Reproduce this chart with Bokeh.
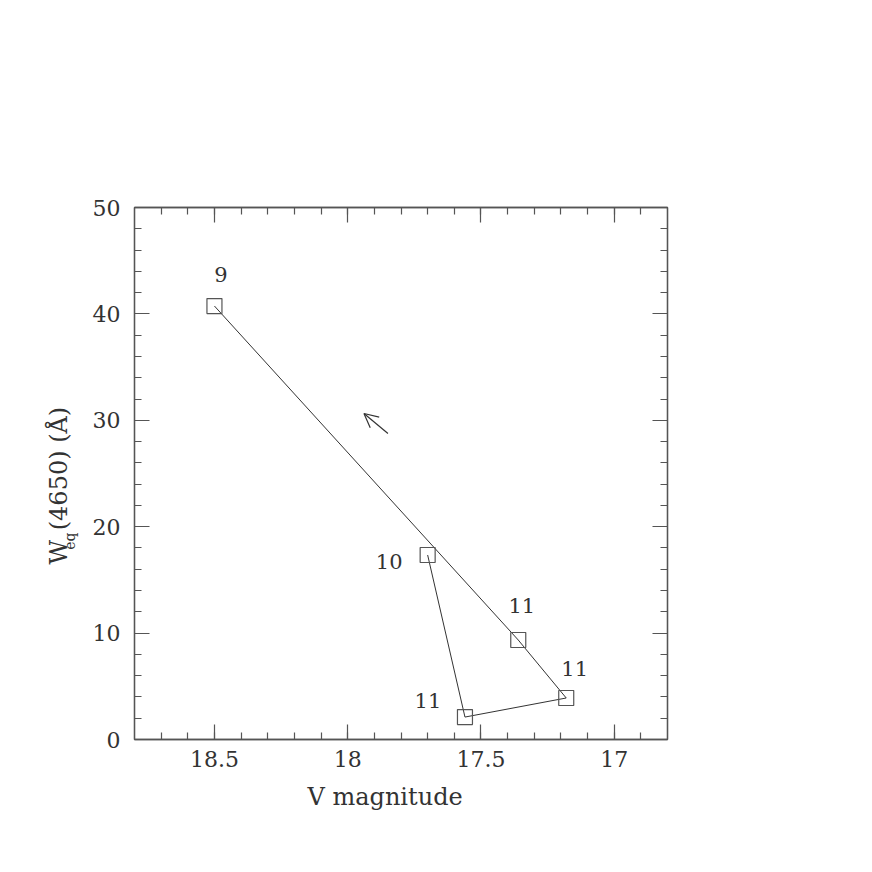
from math import pi
from bokeh.plotting import figure
from bokeh.layouts import row
from bokeh.models import (Range1d, FixedTicker, LinearAxis, CustomJSTickFormatter,
                          Arrow, OpenHead, ColumnDataSource, Title)
from bokeh.embed import file_html
from bokeh.resources import INLINE
from bokeh.core.properties import value

# ---- data ----
v_mag = [18.50, 17.36, 17.18, 17.56, 17.70]
w_eq = [40.74, 9.35, 3.90, 2.11, 17.34]
point_labels = ["9", "11", "11", "11", "10"]

x_major = [18.5, 18.0, 17.5, 17.0]
x_minor = [round(16.9 + 0.1 * i, 1) for i in range(19)]
y_major = [0, 10, 20, 30, 40, 50]
y_minor = list(range(2, 50, 2))

arrow_start = (17.849, 28.76)
arrow_end = (17.939, 30.64)

x_title = "V magnitude"
y_title_parts = ["W", "eq", "(4650) (Å)"]

# ---- style ----
FONT = "DejaVu Serif"
INK = "#333333"
FRAME = "#555555"
lab_dx = [6.5, 3.5, 8.5, -37, -38.5]
lab_dy = [-31.5, -34.5, -29.5, -16.5, 6.5]

W_SIDE = 88
H_TOTAL = 856

p = figure(frame_width=533, frame_height=532,
           min_border_left=134 - W_SIDE, min_border_top=207,
           min_border_right=150, min_border_bottom=H_TOTAL - 207 - 532,
           x_range=Range1d(18.8, 16.8), y_range=Range1d(0, 50),
           output_backend="svg", toolbar_location=None,
           background_fill_color="white", border_fill_color="white")
p.xgrid.visible = False
p.ygrid.visible = False
p.outline_line_color = FRAME
p.outline_line_width = 1.3

xt = FixedTicker(ticks=x_major, minor_ticks=x_minor)
yt = FixedTicker(ticks=y_major, minor_ticks=y_minor)
fmt = CustomJSTickFormatter(code="return String(tick);")

bottom = p.below[0]
left = p.left[0]
bottom.ticker = xt
left.ticker = yt
bottom.formatter = fmt
left.formatter = fmt

top = LinearAxis(ticker=xt, formatter=fmt)
right = LinearAxis(ticker=yt, formatter=fmt)
p.add_layout(top, "above")
p.add_layout(right, "right")

for ax in [bottom, left, top, right]:
    ax.axis_line_color = FRAME
    ax.axis_line_width = 1.3
    ax.major_tick_line_color = FRAME
    ax.minor_tick_line_color = FRAME
    ax.major_tick_line_width = 1.2
    ax.minor_tick_line_width = 1.2
    ax.major_tick_in = 15
    ax.major_tick_out = 0
    ax.minor_tick_in = 7
    ax.minor_tick_out = 0
    ax.major_label_text_font = FONT
    ax.major_label_text_font_size = "22px"
    ax.major_label_text_color = INK
    ax.axis_label = None

top.major_label_text_color = None
right.major_label_text_color = None
bottom.major_label_standoff = 11
left.major_label_standoff = 14

src = ColumnDataSource(dict(x=v_mag, y=w_eq, t=point_labels, dx=lab_dx, dy=lab_dy))
p.line("x", "y", source=src, line_color=INK, line_width=1)
p.scatter("x", "y", source=src, marker="square", size=15,
          fill_color=None, line_color=FRAME, line_width=1.2)
p.text("x", "y", text="t", source=src, x_offset="dx", y_offset="dy",
       text_font=value(FONT), text_font_size="21px", text_color=INK,
       text_align="center", text_baseline="middle")

p.add_layout(Arrow(end=OpenHead(size=14, line_color=INK, line_width=1.2),
                   x_start=arrow_start[0], y_start=arrow_start[1],
                   x_end=arrow_end[0], y_end=arrow_end[1],
                   line_color=INK, line_width=1.2))

# x-axis title
p.add_layout(Title(text=x_title, align="left", offset=173, standoff=22,
                   text_font=FONT, text_font_size="24px", text_color=INK,
                   text_font_style="normal"), "below")

# side strip carrying the rotated y-axis title (pixel coordinates)
s = figure(width=W_SIDE, height=H_TOTAL, x_range=Range1d(0, W_SIDE),
           y_range=Range1d(0, H_TOTAL), x_axis_type=None, y_axis_type=None,
           min_border=0, output_backend="svg", toolbar_location=None,
           background_fill_color="white", border_fill_color="white")
s.outline_line_color = None
s.grid.visible = False
s.text(x=[58.5], y=[H_TOTAL - 554.5], text=[y_title_parts[0]], angle=pi / 2,
       text_font=value(FONT), text_font_size="24px", text_color=INK,
       text_align="center", text_baseline="middle")
s.text(x=[69], y=[H_TOTAL - 537], text=[y_title_parts[1]], angle=pi / 2,
       text_font=value(FONT), text_font_size="14px", text_color=INK,
       text_align="center", text_baseline="middle")
s.text(x=[58.5], y=[H_TOTAL - 420], text=[y_title_parts[2]], angle=pi / 2,
       text_font=value(FONT), text_font_size="24px", text_color=INK,
       text_align="center", text_baseline="middle")

layout = row(s, p)
open("out.html", "w").write(file_html(layout, INLINE))
